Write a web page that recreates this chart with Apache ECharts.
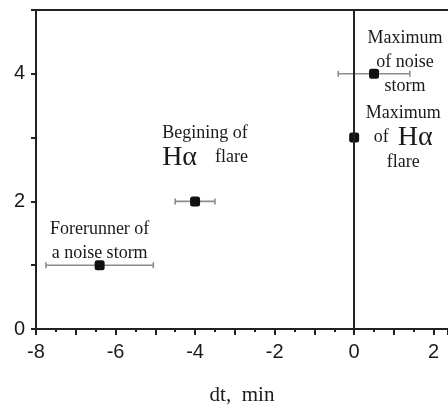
<!DOCTYPE html>
<html>
<head>
<meta charset="utf-8">
<style>
  html, body { margin: 0; padding: 0; background: #fff; }
  #chart { width: 448px; height: 412px; }
</style>
<script src="https://cdn.jsdelivr.net/npm/echarts@6/dist/echarts.min.js"></script>
</head>
<body>
<div id="chart"></div>
<script>
// Events in the evolution of the flare and the noise storm
const events = ['Forerunner of a noise storm', 'Begining of Hα flare', 'Maximum of Hα flare', 'Maximum of noise storm'];
// Time offset of each event, minutes
const dt = [-6.4, -4.0, 0.0, 0.5];
// Vertical placement (event rank)
const rank = [1, 2, 3, 4];
// Uncertainty range of the time offset (null = none)
const errLow = [-7.75, -4.5, null, -0.4];
const errHigh = [-5.05, -3.5, null, 1.4];
// Tick labels shown on each axis
const xTickLabels = [-8, -6, -4, -2, 0, 2];
const yTickLabels = [0, 2, 4];

const SERIF = '"Liberation Serif", "Times New Roman", serif';
const SANS = '"Liberation Sans", Arial, sans-serif';

// Text blocks attached to each marker
const labelText = [
  '{t|Forerunner of}\n{t|a noise storm}',
  '{t|Begining of}\n{h|Hα}{t|    flare}',
  '{t|Maximum}\n{t|of  }{h|Hα}\n{t|flare}',
  '{t|Maximum}\n{t|of noise}\n{t|storm}'
];
const labelOffset = [[0, -24], [10, -56], [49, 0], [31, -12]];

const richStyles = {
  t: { fontFamily: SERIF, fontSize: 18, color: '#1a1a1a', lineHeight: 24 },
  h: { fontFamily: SERIF, fontSize: 28, color: '#1a1a1a', lineHeight: 25 }
};

const pointData = dt.map((x, i) => ({
  name: events[i],
  value: [x, rank[i]],
  label: {
    show: true,
    position: 'inside',
    offset: labelOffset[i],
    align: 'center',
    verticalAlign: 'middle',
    formatter: labelText[i],
    rich: richStyles
  }
}));

const errData = [];
dt.forEach((x, i) => {
  if (errLow[i] !== null) errData.push([x, rank[i], errLow[i], errHigh[i]]);
});

const chart = echarts.init(document.getElementById('chart'), null, { renderer: 'canvas' });

chart.setOption({
  animation: false,
  backgroundColor: '#fff',
  grid: { left: 36, right: 0, top: 10, bottom: 83, containLabel: false, outerBoundsMode: 'none' },
  xAxis: [{
    type: 'value',
    min: -8,
    max: 2.36,
    interval: 1,
    position: 'bottom',
    name: 'dt,  min',
    nameLocation: 'middle',
    nameGap: 56,
    nameTextStyle: { fontFamily: SERIF, fontSize: 21, color: '#1a1a1a' },
    axisLine: { show: true, onZero: false, lineStyle: { color: '#222', width: 2 } },
    axisTick: { show: true, inside: false, length: 6, lineStyle: { color: '#222', width: 2 } },
    minorTick: { show: true, splitNumber: 2, length: 3, lineStyle: { color: '#222', width: 2 } },
    splitLine: { show: false },
    axisLabel: {
      margin: 13,
      fontFamily: SANS,
      fontSize: 20,
      color: '#1a1a1a',
      formatter: v => (xTickLabels.indexOf(v) >= 0 ? String(v) : '')
    }
  }, {
    type: 'value',
    min: -8,
    max: 2.36,
    position: 'top',
    axisLine: { show: true, onZero: false, lineStyle: { color: '#222', width: 2 } },
    axisTick: { show: false },
    axisLabel: { show: false },
    splitLine: { show: false }
  }],
  yAxis: {
    type: 'value',
    min: 0,
    max: 5,
    interval: 1,
    axisLine: { show: true, onZero: false, lineStyle: { color: '#222', width: 2 } },
    axisTick: { show: true, inside: false, length: 5, lineStyle: { color: '#222', width: 2 } },
    splitLine: { show: false },
    axisLabel: {
      margin: 11,
      fontFamily: SANS,
      fontSize: 20,
      color: '#1a1a1a',
      formatter: v => (yTickLabels.indexOf(v) >= 0 ? String(v) : '')
    }
  },
  series: [{
    type: 'custom',
    name: 'range',
    xAxisIndex: 0,
    data: errData,
    z: 2,
    renderItem: function (params, api) {
      const y = api.coord([0, api.value(1)])[1];
      const x1 = api.coord([api.value(2), 0])[0];
      const x2 = api.coord([api.value(3), 0])[0];
      const cap = 3;
      const style = { stroke: '#8c8c8c', lineWidth: 1.6 };
      return {
        type: 'group',
        children: [
          { type: 'line', shape: { x1: x1, y1: y, x2: x2, y2: y }, style: style },
          { type: 'line', shape: { x1: x1, y1: y - cap, x2: x1, y2: y + cap }, style: style },
          { type: 'line', shape: { x1: x2, y1: y - cap, x2: x2, y2: y + cap }, style: style }
        ]
      };
    }
  }, {
    type: 'scatter',
    name: 'events',
    xAxisIndex: 0,
    symbol: 'roundRect',
    symbolSize: 10,
    itemStyle: { color: '#111', opacity: 1 },
    z: 4,
    data: pointData,
    markLine: {
      silent: true,
      symbol: 'none',
      label: { show: false },
      lineStyle: { color: '#222', width: 2, type: 'solid', opacity: 1 },
      data: [{ xAxis: 0 }]
    }
  }]
});
</script>
</body>
</html>
